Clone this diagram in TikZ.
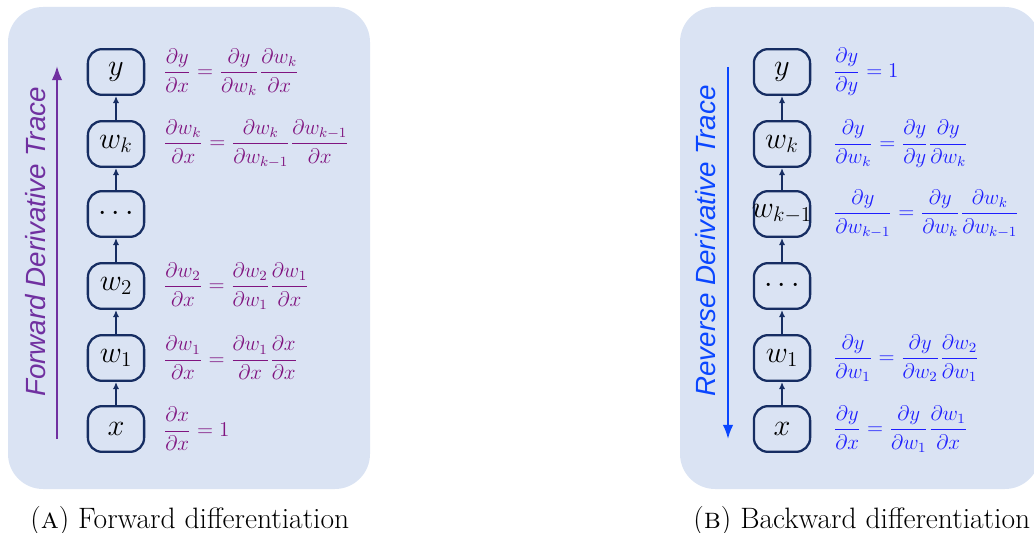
\documentclass[tikz,border=0pt]{standalone}
\usepackage{fontspec}
\setsansfont{Liberation Sans}
\usetikzlibrary{arrows.meta}
\definecolor{panelbg}{RGB}{218,227,243}
\definecolor{navy}{RGB}{22,45,98}
\definecolor{eqpurple}{RGB}{128,20,128}
\definecolor{arrpurple}{RGB}{112,48,160}
\definecolor{eqblue}{RGB}{30,30,255}
\definecolor{arrblue}{RGB}{10,70,255}
\tikzset{
  panel/.style={fill=panelbg, draw=none, rounded corners=20pt},
  varbox/.style={draw=navy, line width=1.3pt, rounded corners=8pt, minimum width=32pt, minimum height=26pt, inner sep=0pt, font=\fontsize{16.5}{18}\selectfont},
  link/.style={draw=navy, line width=1.1pt, -{Latex[length=4pt,width=3.5pt]}},
  eqF/.style={anchor=west, text=eqpurple, inner sep=0pt, font=\fontsize{12}{14}\selectfont},
  eqB/.style={anchor=west, text=eqblue, inner sep=0pt, font=\fontsize{12}{14}\selectfont},
  tracelabel/.style={rotate=90, anchor=base, inner sep=0pt, font=\sffamily\itshape\fontsize{15.8}{18}\selectfont},
  capt/.style={anchor=base west, inner sep=0pt, font=\fontsize{16.8}{19}\selectfont},
}
\begin{document}
\begin{tikzpicture}[x=0.02cm, y=-0.02cm]
\useasboundingbox (0,0) rectangle (1034,533);
% panels
\path[panel] (8,7) rectangle (370,489);
\path[panel] (680,7) rectangle (1040,489);
% forward column
\node[varbox] (fy) at (116,72) {$y$};
\node[varbox] (fwk) at (116,144) {$w_k$};
\node[varbox] (fdots) at (116,214) {$\cdots$};
\node[varbox] (fw2) at (116,286) {$w_2$};
\node[varbox] (fw1) at (116,358) {$w_1$};
\node[varbox] (fx) at (116,429) {$x$};
\draw[link] (fx) -- (fw1);
\draw[link] (fw1) -- (fw2);
\draw[link] (fw2) -- (fdots);
\draw[link] (fdots) -- (fwk);
\draw[link] (fwk) -- (fy);
\coordinate (fa0) at (57,439);
\coordinate (fa1) at (57,66);
\draw[arrpurple, line width=1.2pt, -{Latex[length=8pt,width=6pt]}] (fa0) -- (fa1);
\node[tracelabel, text=arrpurple] (flab) at (45,242) {Forward Derivative Trace};
\node[eqF] (efy) at (163,72) {$\displaystyle \frac{\partial y}{\partial x}=\frac{\partial y}{\partial w_k}\frac{\partial w_k}{\partial x}$};
\node[eqF] (efwk) at (163,144) {$\displaystyle \frac{\partial w_k}{\partial x}=\frac{\partial w_k}{\partial w_{k-1}}\frac{\partial w_{k-1}}{\partial x}$};
\node[eqF] (efw2) at (163,286) {$\displaystyle \frac{\partial w_2}{\partial x}=\frac{\partial w_2}{\partial w_1}\frac{\partial w_1}{\partial x}$};
\node[eqF] (efw1) at (163,358) {$\displaystyle \frac{\partial w_1}{\partial x}=\frac{\partial w_1}{\partial x}\frac{\partial x}{\partial x}$};
\node[eqF] (efx) at (163,429) {$\displaystyle \frac{\partial x}{\partial x}=1$};
% backward column
\node[varbox] (by) at (782,72) {$y$};
\node[varbox] (bwk) at (782,144) {$w_k$};
\node[varbox] (bwk1) at (782,214) {\makebox[0pt]{$w_{k-1}$}};
\node[varbox] (bdots) at (782,286) {$\cdots$};
\node[varbox] (bw1) at (782,358) {$w_1$};
\node[varbox] (bx) at (782,429) {$x$};
\draw[link] (bx) -- (bw1);
\draw[link] (bw1) -- (bdots);
\draw[link] (bdots) -- (bwk1);
\draw[link] (bwk1) -- (bwk);
\draw[link] (bwk) -- (by);
\coordinate (ba0) at (728,67);
\coordinate (ba1) at (728,439);
\draw[arrblue, line width=1.2pt, -{Latex[length=8pt,width=6pt]}] (ba0) -- (ba1);
\node[tracelabel, text=arrblue] (blab) at (715,241) {Reverse Derivative Trace};
\node[eqB] (eby) at (833,72) {$\displaystyle \frac{\partial y}{\partial y}=1$};
\node[eqB] (ebwk) at (833,144) {$\displaystyle \frac{\partial y}{\partial w_k}=\frac{\partial y}{\partial y}\frac{\partial y}{\partial w_k}$};
\node[eqB] (ebwk1) at (833,214) {$\displaystyle \frac{\partial y}{\partial w_{k-1}}=\frac{\partial y}{\partial w_k}\frac{\partial w_k}{\partial w_{k-1}}$};
\node[eqB] (ebw1) at (833,358) {$\displaystyle \frac{\partial y}{\partial w_1}=\frac{\partial y}{\partial w_2}\frac{\partial w_2}{\partial w_1}$};
\node[eqB] (ebx) at (833,429) {$\displaystyle \frac{\partial y}{\partial x}=\frac{\partial y}{\partial w_1}\frac{\partial w_1}{\partial x}$};
% captions
\node[capt] (capA) at (30,528) {(\textsc{a}) Forward differentiation};
\node[capt] (capB) at (693,528) {(\textsc{b}) Backward differentiation};
\end{tikzpicture}
\end{document}
